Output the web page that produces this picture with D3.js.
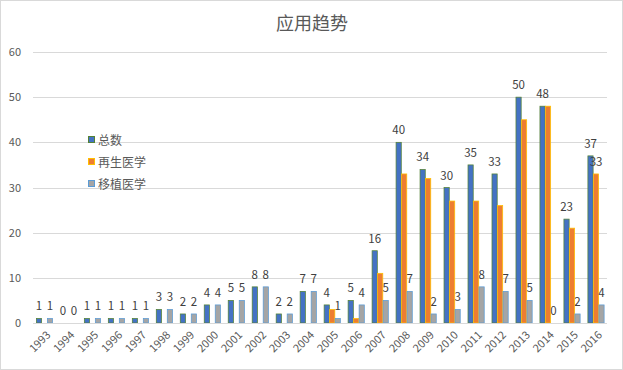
<!DOCTYPE html>
<html>
<head>
<meta charset="utf-8">
<script src="https://cdn.jsdelivr.net/npm/d3@7"></script>
<style>
  body { margin: 0; background: #fff; }
  text { font-family: "Noto Sans CJK SC", "Noto Sans", sans-serif; }
</style>
</head>
<body>
<div id="chart"></div>
<script>
var years = ['1993', '1994', '1995', '1996', '1997', '1998', '1999', '2000', '2001', '2002', '2003', '2004',
    '2005', '2006', '2007', '2008', '2009', '2010', '2011', '2012', '2013', '2014', '2015', '2016'];
var total = [1, 0, 1, 1, 1, 3, 2, 4, 5, 8, 2, 7, 4, 5, 16, 40, 34, 30, 35, 33, 50, 48, 23, 37];
var regen = [null, null, null, null, null, null, null, null, null, null, null, null,
    3, 1, 11, 33, 32, 27, 27, 26, 45, 48, 21, 33];
var transplant = [1, 0, 1, 1, 1, 3, 2, 4, 5, 8, 2, 7, 1, 4, 5, 7, 2, 3, 8, 7, 5, 0, 2, 4];
var regenLabeled = ['2016'];
var yTicks = [0, 10, 20, 30, 40, 50, 60];

var width = 623, height = 370;

var svg = d3.select('#chart')
    .append('svg')
    .attr('width', width)
    .attr('height', height);

// outer border
svg.append('rect')
    .attr('x', 0.5).attr('y', 0.5)
    .attr('width', width - 1).attr('height', height - 1)
    .style('fill', '#fff')
    .style('stroke', '#d9d9d9');

svg.append('text')
    .attr('x', 312).attr('y', 30)
    .attr('text-anchor', 'middle')
    .style('font-size', '18px')
    .style('fill', '#595959')
    .text('应用趋势');

var x = d3.scaleBand().domain(years).range([32.5, 608]);
var y = d3.scaleLinear().domain([0, 60]).range([323, 52]);

// gridlines
svg.append('g')
    .selectAll('line')
    .data(yTicks)
    .enter().append('line')
    .attr('x1', 33).attr('x2', 607)
    .attr('y1', function (d) { return Math.round(y(d)) + 0.5; })
    .attr('y2', function (d) { return Math.round(y(d)) + 0.5; })
    .style('stroke', '#d9d9d9');

svg.append('g')
    .selectAll('text')
    .data(yTicks)
    .enter().append('text')
    .attr('x', 21)
    .attr('y', function (d) { return y(d) + 4; })
    .attr('text-anchor', 'end')
    .style('font-size', '11px')
    .style('fill', '#595959')
    .text(function (d) { return d; });

var series = [
    { name: '总数', values: total, fill: '#4472C4', stroke: '#548235', offset: -8.5 },
    { name: '再生医学', values: regen, fill: '#ED7D31', stroke: '#FFC000', offset: -3 },
    { name: '移植医学', values: transplant, fill: '#A5A5A5', stroke: '#5B9BD5', offset: 2.5 }
];

function center(yr) { return x(yr) + x.bandwidth() / 2; }

series.forEach(function (s, si) {
    var rows = years.map(function (yr, i) { return { year: yr, v: s.values[i] }; })
        .filter(function (r) { return r.v !== null; });

    svg.append('g')
        .selectAll('rect')
        .data(rows.filter(function (r) { return r.v > 0; }))
        .enter().append('rect')
        .attr('x', function (r) { return center(r.year) + s.offset + 0.4; })
        .attr('y', function (r) { return y(r.v); })
        .attr('width', 5.2)
        .attr('height', function (r) { return y(0) - y(r.v); })
        .style('fill', s.fill)
        .style('stroke', s.stroke)
        .style('stroke-width', 0.75);

    var labelRows = si === 1
        ? rows.filter(function (r) { return regenLabeled.indexOf(r.year) >= 0; })
        : rows;

    svg.append('g')
        .selectAll('text')
        .data(labelRows)
        .enter().append('text')
        .attr('x', function (r) { return center(r.year) + s.offset + 3; })
        .attr('y', function (r) { return y(r.v) - 8; })
        .attr('text-anchor', 'middle')
        .style('font-size', '11.5px')
        .style('fill', '#404040')
        .text(function (r) { return r.v; });
});

// x axis
svg.append('line')
    .attr('x1', 33).attr('x2', 607)
    .attr('y1', 323.5).attr('y2', 323.5)
    .style('stroke', '#d9d9d9');

svg.append('g')
    .selectAll('text')
    .data(years)
    .enter().append('text')
    .attr('transform', function (d) { return 'translate(' + (center(d) + 4) + ',333) rotate(-45)'; })
    .attr('text-anchor', 'end')
    .attr('dy', '0.35em')
    .style('font-size', '11px')
    .style('fill', '#595959')
    .text(function (d) { return d; });

// legend
var legend = svg.append('g')
    .selectAll('g')
    .data(series)
    .enter().append('g')
    .attr('transform', function (d, i) { return 'translate(88,' + (141 + i * 22) + ')'; });

legend.append('rect')
    .attr('x', 0.5).attr('y', -4.5)
    .attr('width', 6).attr('height', 6)
    .style('fill', function (d) { return d.fill; })
    .style('stroke', function (d) { return d.stroke; });

legend.append('text')
    .attr('x', 10).attr('y', 4)
    .style('font-size', '12px')
    .style('fill', '#595959')
    .text(function (d) { return d.name; });
</script>
</body>
</html>
